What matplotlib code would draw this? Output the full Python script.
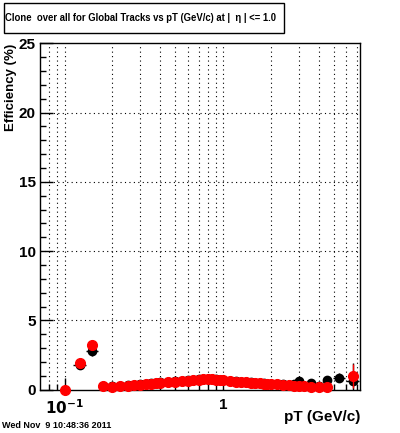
import numpy as np
import matplotlib
matplotlib.use("Agg")
import matplotlib.pyplot as plt
from matplotlib.ticker import FixedLocator, NullFormatter, FuncFormatter
from matplotlib.patches import Rectangle

# ---- data ----
pt = [0.1, 0.125, 0.15, 0.175, 0.2, 0.225, 0.25, 0.275, 0.3, 0.325, 0.35, 0.375,
      0.4, 0.45, 0.5, 0.55, 0.6, 0.65, 0.7, 0.75, 0.8, 0.85, 0.9, 0.95, 1.0,
      1.1, 1.2, 1.3, 1.4, 1.5, 1.6, 1.7, 1.8, 1.9, 2.0, 2.2, 2.4, 2.6, 2.8,
      3.0, 3.25, 3.6, 4.05, 4.55, 5.4, 6.6]
pt_halfwidth = [0.0125, 0.0125, 0.0125, 0.0125, 0.0125, 0.0125, 0.0125, 0.0125,
                0.0125, 0.0125, 0.0125, 0.0125, 0.025, 0.025, 0.025, 0.025, 0.025,
                0.025, 0.025, 0.025, 0.025, 0.025, 0.025, 0.025, 0.025, 0.05, 0.05,
                0.05, 0.05, 0.05, 0.05, 0.05, 0.05, 0.05, 0.05, 0.1, 0.1, 0.1, 0.1,
                0.1, 0.15, 0.2, 0.25, 0.25, 0.5, 0.6]
eff_red = [0.0, 1.9, 3.2, 0.27, 0.22, 0.27, 0.28, 0.33, 0.34, 0.39, 0.40, 0.45,
           0.46, 0.53, 0.56, 0.63, 0.65, 0.71, 0.72, 0.76, 0.75, 0.77, 0.73, 0.73,
           0.67, 0.65, 0.59, 0.58, 0.52, 0.51, 0.47, 0.47, 0.43, 0.43, 0.40, 0.40,
           0.36, 0.35, 0.30, 0.30, 0.25, 0.20, 0.19, 0.17, np.nan, 0.99]
err_red = [0.0, 0.3, 0.35, 0.05, 0.04, 0.04, 0.04, 0.04, 0.04, 0.04, 0.04, 0.04,
           0.04, 0.04, 0.04, 0.04, 0.04, 0.04, 0.04, 0.04, 0.05, 0.05, 0.05, 0.05,
           0.05, 0.05, 0.05, 0.05, 0.06, 0.06, 0.06, 0.07, 0.07, 0.08, 0.08, 0.09,
           0.1, 0.1, 0.12, 0.13, 0.14, 0.15, 0.18, 0.2, 0.0, 0.9]
eff_black = [0.0, 1.78, 2.8, 0.3, 0.26, 0.28, 0.31, 0.35, 0.39, 0.43, 0.47, 0.50,
             0.54, 0.58, 0.62, 0.66, 0.70, 0.73, 0.75, 0.77, 0.78, 0.76, 0.74, 0.72,
             0.69, 0.66, 0.61, 0.58, 0.55, 0.52, 0.49, 0.47, 0.45, 0.43, 0.42, 0.42,
             0.38, 0.36, 0.40, 0.65, 0.30, 0.48, 0.30, 0.70, 0.87, 0.65]
err_black = [0.0, 0.3, 0.35, 0.05, 0.04, 0.04, 0.04, 0.04, 0.04, 0.04, 0.04, 0.04,
             0.04, 0.04, 0.04, 0.04, 0.04, 0.04, 0.04, 0.04, 0.05, 0.05, 0.05, 0.05,
             0.05, 0.05, 0.05, 0.05, 0.06, 0.06, 0.06, 0.07, 0.07, 0.08, 0.08, 0.09,
             0.1, 0.1, 0.12, 0.15, 0.15, 0.2, 0.2, 0.25, 0.35, 1.3]

title = "Clone  over all for Global Tracks vs pT (GeV/c) at |  \u03b7 | <= 1.0"
xlabel = "pT (GeV/c)"
ylabel = "Efficiency (%)"
datestamp = "Wed Nov  9 10:48:36 2011"
yticks_major = [0, 5, 10, 15, 20, 25]

plt.rcParams['font.family'] = ['Liberation Sans', 'DejaVu Sans']

fig = plt.figure(figsize=(4.0, 4.33), dpi=100)
ax = fig.add_axes([0.1, 0.1, 0.8, 0.8])
ax.set_xscale('log')
ax.set_xlim(0.07, 7.3)
ax.set_ylim(0, 25)

# grid
xgrid = [0.08, 0.09, 0.1, 0.2, 0.3, 0.4, 0.5, 0.6, 0.7, 0.8, 0.9, 1, 2, 3, 4, 5, 6, 7]
for xv in xgrid:
    ax.axvline(xv, color='black', lw=0.8, ls=(0, (1, 3)), zorder=1)
for yv in yticks_major[1:-1]:
    ax.axhline(yv, color='black', lw=0.8, ls=(0, (1, 3)), zorder=1)

ptb = np.array(pt)
eb = np.array(eff_black)
mask_b = ptb > 0.11
ax.errorbar(ptb[mask_b], eb[mask_b], xerr=np.array(pt_halfwidth)[mask_b],
            yerr=np.array(err_black)[mask_b], fmt='o', color='black',
            ms=6, elinewidth=1, capsize=0, zorder=3)
ax.errorbar(pt, eff_red, yerr=err_red, fmt='o', color='red', ms=7,
            elinewidth=1, capsize=0, zorder=4, clip_on=False)

# ticks
ax.xaxis.set_major_locator(FixedLocator([0.1, 1]))
ax.xaxis.set_minor_locator(FixedLocator([0.08, 0.09, 0.2, 0.3, 0.4, 0.5, 0.6, 0.7,
                                         0.8, 0.9, 2, 3, 4, 5, 6, 7]))
ax.xaxis.set_minor_formatter(NullFormatter())
ax.xaxis.set_major_formatter(FuncFormatter(lambda v, p: r'$\mathbf{10^{-1}}$' if v < 0.5 else '1'))
ax.yaxis.set_major_locator(FixedLocator(yticks_major))
ax.yaxis.set_minor_locator(FixedLocator([v for v in range(0, 26) if v % 5]))
ax.tick_params(axis='both', which='major', direction='in', length=9, width=1,
               labelsize=11, top=False, right=False)
ax.tick_params(axis='both', which='minor', direction='in', length=4.5, width=1,
               top=False, right=False)
ax.tick_params(axis='x', which='major', pad=6)
ax.tick_params(axis='y', which='major', pad=3)
for lab in ax.get_xticklabels() + ax.get_yticklabels():
    lab.set_fontweight('bold')
for sp in ax.spines.values():
    sp.set_linewidth(1)

# labels
fig.text(0.9, 0.02, xlabel, ha='right', va='bottom', fontsize=11,
         fontweight='bold')
fig.text(0.012, 0.9, ylabel, ha='left', va='top', rotation=90, fontsize=9.5,
         fontweight='bold')
fig.text(0.005, 0.007, datestamp, ha='left', va='bottom', fontsize=6.5,
         fontweight='bold')

# title box
fig.patches.append(Rectangle((4 / 400, 1 - 33 / 433), 280 / 400, 30 / 433,
                             transform=fig.transFigure, fill=False,
                             edgecolor='black', lw=1))
fig.text(5 / 400, 1 - 18 / 433, title, ha='left', va='center', fontsize=6.85,
         fontweight='bold')

fig.savefig('out.png', dpi=100)
